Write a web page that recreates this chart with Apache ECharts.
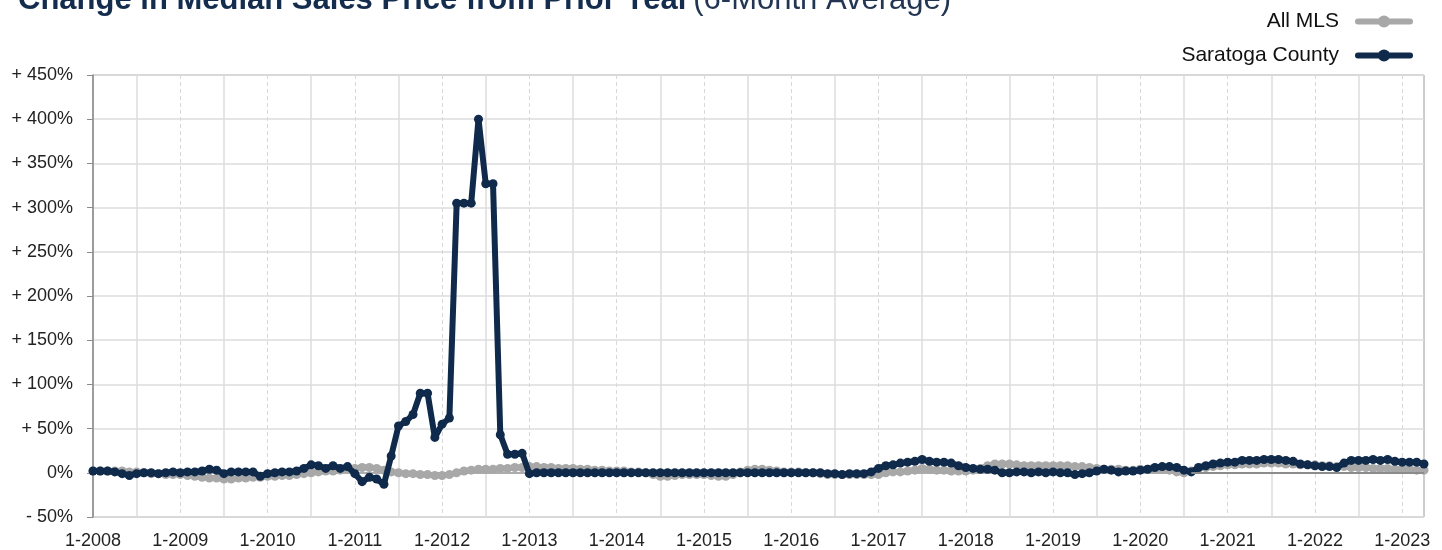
<!DOCTYPE html>
<html>
<head>
<meta charset="utf-8">
<script src="https://cdn.jsdelivr.net/npm/echarts@6/dist/echarts.min.js"></script>
<style>
  html, body { margin: 0; padding: 0; background: #ffffff; }
  #chart { width: 1442px; height: 550px; }
</style>
</head>
<body>
<div id="chart"></div>
<script>
// ---- Data ----
const startYear = 2008;
const endYear = 2023;
const endMonth = 4; // April 2023
const categories = [];
for (let y = startYear; y <= endYear; y++) {
  for (let m = 1; m <= 12; m++) {
    if (y === endYear && m > endMonth) break;
    categories.push(m + '-' + y);
  }
}

const seriesNames = ['All MLS', 'Saratoga County'];

// All MLS, % change (6-month average)
const allMLS = [
  // 2008
  2, 2, 2, 2, 2, 1, 1, 0, -1, -1, -2, -2,
  // 2009
  -2, -3, -4, -5, -6, -6, -7, -7, -6, -6, -5, -5,
  // 2010
  -4, -4, -3, -3, -2, -1, 0, 1, 2, 2, 3, 4,
  // 2011
  5, 6, 6, 5, 3, 1, 0, -1, -1, -2, -2, -3,
  // 2012
  -3, -2, 0, 2, 3, 4, 4, 4, 5, 5, 6, 6,
  // 2013
  7, 7, 6, 6, 5, 5, 5, 4, 4, 3, 3, 2,
  // 2014
  2, 2, 1, 1, 0, -2, -4, -4, -3, -2, -2, -2,
  // 2015
  -2, -3, -4, -4, -2, 1, 3, 4, 4, 3, 2, 1,
  // 2016
  1, 1, 0, 0, -1, -2, -2, -2, -2, -2, -2, -2,
  // 2017
  -2, 0, 1, 1, 2, 3, 5, 4, 3, 3, 2, 2,
  // 2018
  2, 3, 5, 8, 10, 10, 10, 9, 8, 8, 8, 8,
  // 2019
  8, 8, 8, 7, 7, 6, 5, 4, 4, 4, 3, 3,
  // 2020
  4, 4, 4, 4, 3, 1, 0, 2, 5, 6, 7, 8,
  // 2021
  9, 9, 10, 10, 10, 11, 11, 11, 10, 10, 9, 9,
  // 2022
  9, 8, 8, 7, 7, 6, 6, 6, 5, 5, 5, 4,
  // 2023
  4, 4, 3, 3
];

// Saratoga County, % change (6-month average)
const saratoga = [
  // 2008
  2, 2, 2, 1, -1, -3, -1, 0, 0, -1, 0, 1,
  // 2009
  0, 1, 1, 2, 4, 3, -1, 1, 1, 1, 1, -4,
  // 2010
  -1, 0, 1, 1, 2, 5, 9, 8, 5, 8, 5, 7,
  // 2011
  -1, -10, -5, -7, -13, 19, 53, 58, 66, 90, 90, 40,
  // 2012
  55, 62, 305, 305, 305, 400, 327, 327, 43, 21, 21, 22,
  // 2013
  -1, 0, 0, 0, 0, 0, 0, 0, 0, 0, 0, 0,
  // 2014
  0, 0, 0, 0, 0, 0, 0, 0, 0, 0, 0, 0,
  // 2015
  0, 0, 0, 0, 0, 0, 0, 0, 0, 0, 0, 0,
  // 2016
  0, 0, 0, 0, 0, -1, -1, -2, -1, -1, -1, 1,
  // 2017
  5, 8, 9, 11, 12, 13, 15, 13, 12, 12, 11, 8,
  // 2018
  6, 5, 4, 4, 3, 0, 0, 1, 1, 0, 1, 0,
  // 2019
  1, 0, 0, -2, -1, 0, 2, 4, 3, 1, 2, 2,
  // 2020
  3, 4, 6, 7, 7, 6, 3, 1, 6, 8, 10, 11,
  // 2021
  12, 12, 14, 14, 14, 15, 15, 15, 14, 13, 10, 9,
  // 2022
  8, 7, 7, 6, 11, 14, 14, 14, 15, 14, 15, 13,
  // 2023
  12, 12, 12, 10
];

const yTicks = { min: -50, max: 450, step: 50 };
const zeroLineRange = ['8-2020', '4-2023'];

// ---- Chart ----
const navy = '#0f2a4b';
const gray = '#a8a8a8';
const chart = echarts.init(document.getElementById('chart'), null, { renderer: 'canvas' });

function yFmt(v) {
  if (v > 0) return '+ ' + v + '%';
  if (v < 0) return '- ' + (-v) + '%';
  return '0%';
}

const option = {
  animation: false,
  backgroundColor: '#ffffff',
  graphic: [{
    type: 'text',
    left: 18,
    top: -15,
    style: {
      text: '{a|Change in Median Sales Price from Prior Year} {b|(6-Month Average)}',
      rich: {
        a: { fontFamily: '"Liberation Sans Narrow", "Arial Narrow", sans-serif', fontWeight: 'bold', fontSize: 31, fill: '#142d4e' },
        b: { fontFamily: '"Liberation Sans Narrow", "Arial Narrow", sans-serif', fontWeight: 'normal', fontSize: 31, fill: '#223552' }
      }
    }
  }],
  legend: {
    orient: 'vertical',
    right: 24,
    top: 6,
    align: 'right',
    itemWidth: 52,
    itemHeight: 15,
    itemGap: 13,
    data: seriesNames,
    lineStyle: { width: 6, cap: 'round' },
    textStyle: {
      fontFamily: 'Liberation Sans, Arial, sans-serif',
      fontSize: 21,
      color: '#111111',
      padding: [0, 14, 0, 0]
    }
  },
  grid: {
    left: 93,
    right: 18,
    top: 75,
    bottom: 30,
    show: true,
    borderColor: '#9a9a9a',
    borderWidth: 1
  },
  xAxis: [{
    type: 'category',
    data: categories,
    boundaryGap: false,
    axisLine: { show: true, lineStyle: { color: '#9a9a9a', width: 1.5 } },
    axisTick: { show: false },
    axisLabel: {
      interval: function (i) { return i % 12 === 0; },
      margin: 15,
      fontFamily: 'Liberation Sans, Arial, sans-serif',
      fontSize: 18,
      color: '#222222'
    },
    splitLine: {
      show: true,
      interval: function (i) { return i % 12 === 0; },
      lineStyle: { color: '#d8d8d8', width: 1, type: [4, 3] }
    }
  }, {
    type: 'category',
    data: categories,
    boundaryGap: false,
    position: 'bottom',
    axisLine: { show: false },
    axisTick: { show: false },
    axisLabel: { show: false },
    splitLine: {
      show: true,
      interval: function (i) { return i % 12 === 6; },
      lineStyle: { color: '#dcdcdc', width: 1.5, type: 'solid' }
    }
  }],
  yAxis: {
    type: 'value',
    min: yTicks.min,
    max: yTicks.max,
    interval: yTicks.step,
    axisLine: { show: true, lineStyle: { color: '#8a8a8a', width: 1.5 } },
    axisTick: { show: true, length: 6, lineStyle: { color: '#8a8a8a' } },
    axisLabel: {
      formatter: yFmt,
      margin: 20,
      fontFamily: 'Liberation Sans, Arial, sans-serif',
      fontSize: 18,
      color: '#222222'
    },
    splitLine: { show: true, lineStyle: { color: '#dcdcdc', width: 1.5 } }
  },
  series: [{
    name: seriesNames[0],
    type: 'line',
    data: allMLS,
    symbol: 'circle',
    symbolSize: 9,
    showSymbol: true,
    showAllSymbol: true,
    lineStyle: { color: gray, width: 6 },
    itemStyle: { color: gray },
    z: 2,
    markLine: {
      silent: true,
      symbol: 'none',
      label: { show: false },
      lineStyle: { color: '#8c8c8c', width: 2, type: 'solid' },
      data: [[{ coord: [zeroLineRange[0], 0] }, { coord: [zeroLineRange[1], 0] }]]
    }
  }, {
    name: seriesNames[1],
    type: 'line',
    data: saratoga,
    symbol: 'circle',
    symbolSize: 9,
    showSymbol: true,
    showAllSymbol: true,
    lineStyle: { color: navy, width: 6 },
    itemStyle: { color: navy },
    z: 3
  }]
};
chart.setOption(option);
</script>
</body>
</html>
